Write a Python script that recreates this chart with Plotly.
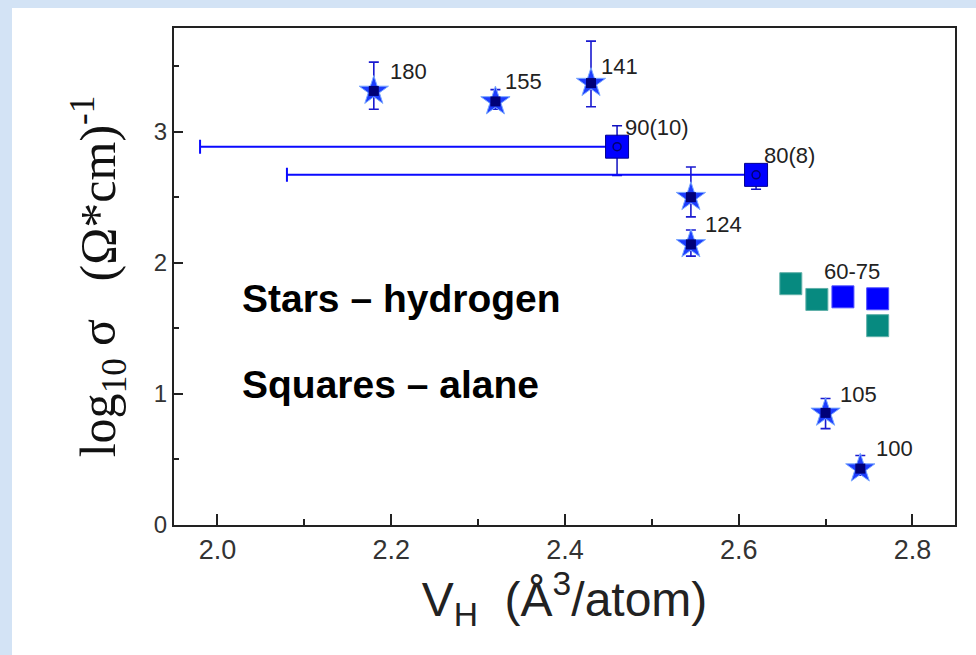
import plotly.graph_objects as go

# ---- data ----
# hydrogen (stars)
h_x = [2.18, 2.32, 2.43, 2.545, 2.545, 2.70, 2.74]
h_y = [3.31, 3.23, 3.37, 2.50, 2.14, 0.855, 0.43]
h_err_plus = [0.22, 0.09, 0.32, 0.23, 0.11, 0.11, 0.10]
h_err_minus = [0.14, 0.06, 0.18, 0.15, 0.09, 0.12, 0.05]
h_labels = ["180", "155", "141", "", "124", "105", "100"]

# alane with error bars (blue squares)
a_x = [2.46, 2.62]
a_y = [2.885, 2.67]
a_yerr_plus = [0.16, 0.08]
a_yerr_minus = [0.22, 0.11]
a_xerr_minus = [0.48, 0.54]
a_labels = ["90(10)", "80(8)"]

# alane 60-75 (no error bars)
blue_x = [2.72, 2.76]
blue_y = [1.74, 1.725]
teal_x = [2.66, 2.69, 2.76]
teal_y = [1.84, 1.72, 1.52]
group_label = "60-75"

x_ticks = [2.0, 2.2, 2.4, 2.6, 2.8]
y_ticks = [0, 1, 2, 3]

fig = go.Figure()

# alane squares with error bars
fig.add_trace(go.Scatter(
    x=a_x, y=a_y, mode="markers",
    marker=dict(symbol="square", size=23, color="#0000ff", line=dict(color="#000090", width=1)),
    error_y=dict(type="data", symmetric=False, array=a_yerr_plus, arrayminus=a_yerr_minus,
                 color="#1010c0", thickness=1.5, width=5),
    error_x=dict(type="data", symmetric=False, array=[0, 0], arrayminus=a_xerr_minus,
                 color="#0a0aff", thickness=2, width=7),
    showlegend=False, hoverinfo="skip"))
fig.add_trace(go.Scatter(
    x=a_x, y=a_y, mode="markers",
    marker=dict(symbol="circle-open", size=8, color="#000070", line=dict(width=1.5)),
    showlegend=False, hoverinfo="skip"))

# 60-75 squares
fig.add_trace(go.Scatter(
    x=teal_x, y=teal_y, mode="markers",
    marker=dict(symbol="square", size=22, color="#078a80", line=dict(color="#5fb0a8", width=1)),
    showlegend=False, hoverinfo="skip"))
fig.add_trace(go.Scatter(
    x=blue_x, y=blue_y, mode="markers",
    marker=dict(symbol="square", size=22, color="#0000ff", line=dict(color="#5050ff", width=1)),
    showlegend=False, hoverinfo="skip"))

# hydrogen stars
fig.add_trace(go.Scatter(
    x=h_x, y=h_y, mode="markers",
    marker=dict(symbol="star", size=22, color="#1d3dff", line=dict(color="#7aa8ff", width=1)),
    error_y=dict(type="data", symmetric=False, array=h_err_plus, arrayminus=h_err_minus,
                 color="#1a1ad0", thickness=1.6, width=5),
    showlegend=False, hoverinfo="skip"))
fig.add_trace(go.Scatter(
    x=h_x, y=h_y, mode="markers",
    marker=dict(symbol="square", size=10, color="#000078"),
    showlegend=False, hoverinfo="skip"))

# value labels
lab_font = dict(family="Liberation Sans, Arial", size=22, color="#222222")
offs_h = [(14, 19), (8, 20), (8, 17), (0, 0), (12, 20), (12, 18), (14, 20)]
for x, y, t, (dx, dy) in zip(h_x, h_y, h_labels, offs_h):
    if t:
        fig.add_annotation(x=x, y=y, text=t, showarrow=False, xanchor="left", yanchor="middle",
                           xshift=dx, yshift=dy, font=lab_font)
for x, y, t in zip(a_x, a_y, a_labels):
    fig.add_annotation(x=x, y=y, text=t, showarrow=False, xanchor="left", yanchor="middle",
                       xshift=6, yshift=19, font=lab_font)
fig.add_annotation(x=blue_x[0], y=blue_y[0], text=group_label, showarrow=False, xanchor="left",
                   yanchor="middle", xshift=-21, yshift=25, font=lab_font)

# legend text
big = dict(family="Liberation Sans, Arial", size=39, color="#000000")
fig.add_annotation(xref="paper", yref="paper", x=(240 - 174) / 781, y=(525 - 298) / 497,
                   text="<b>Stars – hydrogen</b>", showarrow=False, xanchor="left",
                   yanchor="middle", font=big)
fig.add_annotation(xref="paper", yref="paper", x=(240 - 174) / 781, y=(525 - 384) / 497,
                   text="<b>Squares – alane</b>", showarrow=False, xanchor="left",
                   yanchor="middle", font=big)

# page background panel
fig.add_shape(type="rect", xref="paper", yref="paper", layer="below",
              x0=(12 - 174) / 781, x1=(976 - 174) / 781 + 0.01,
              y0=(525 - 660) / 497, y1=(525 - 8) / 497,
              fillcolor="white", line=dict(width=0))

fig.update_xaxes(
    range=[1.95, 2.849], tickvals=x_ticks, ticktext=[f"{v:.1f}" for v in x_ticks],
    ticks="inside", ticklen=11, tickwidth=1.5, tickcolor="#222",
    minor=dict(ticks="inside", ticklen=6, dtick=0.1, tick0=2.0, tickcolor="#222", tickwidth=1.5),
    showline=True, linecolor="#222", linewidth=2, mirror=True, showgrid=False, zeroline=False,
    tickfont=dict(family="Liberation Sans, Arial", size=27, color="#333"),
    title=dict(text="V<sub>H</sub>  (Å<sup>3</sup>/atom)", standoff=16,
               font=dict(family="Liberation Sans, Arial", size=48, color="#222")))
fig.update_yaxes(
    range=[0, 3.79], tickvals=y_ticks, ticks="inside", ticklen=9, tickwidth=1.5, tickcolor="#222",
    minor=dict(ticks="inside", ticklen=5, dtick=0.5, tick0=0, tickcolor="#222", tickwidth=1.5),
    showline=True, linecolor="#222", linewidth=2, mirror=True, showgrid=False, zeroline=False,
    tickfont=dict(family="Liberation Sans, Arial", size=24, color="#333"),
    title=dict(text="log<sub>10</sub> σ   (Ω*cm)<sup>-1</sup>", standoff=22,
               font=dict(family="Liberation Serif, Times New Roman", size=50, color="#111")))

fig.update_layout(
    width=976, height=655,
    margin=dict(l=174, r=21, t=28, b=130),
    paper_bgcolor="#d3e3f5", plot_bgcolor="white",
    showlegend=False)

fig.write_html("out.html")
